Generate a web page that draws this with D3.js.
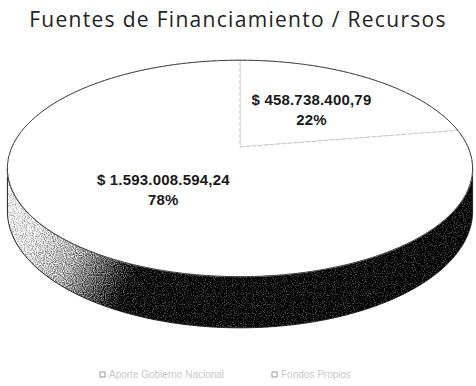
<!DOCTYPE html>
<html>
<head>
<meta charset="utf-8">
<script src="https://cdn.jsdelivr.net/npm/d3@7/dist/d3.min.js"></script>
<style>
  html, body { margin: 0; padding: 0; background: #fff; }
  svg { display: block; }
</style>
</head>
<body>
<svg id="chart" width="476" height="386"></svg>
<script>
// Funding sources (pesos) — slice order starts at 12 o'clock, clockwise
const categories = ["Fondos Propios", "Aporte Gobierno Nacional"];
const amounts = [458738400.79, 1593008594.24];
const amountLabels = ["$ 458.738.400,79", "$ 1.593.008.594,24"];
const percentLabels = ["22%", "78%"];
const legendOrder = [1, 0];
const title = "Fuentes de Financiamiento / Recursos";

const W = 476, H = 386;
const svg = d3.select("#chart");

// 3D disc geometry with a little perspective (far edge smaller)
const cx = 240, cy = 147;
const Rx = 228, Ry = 104;
const persp = 0.198;
const depth = 41;

function proj(theta, r = 1, dz = 0) {
  const s = Math.sin(theta), c = Math.cos(theta);
  const f = 1 / (1 + persp * c * r);
  return [cx + Rx * r * s * f, cy + (-Ry * r * c + dz) * f];
}

const defs = svg.append("defs");

// side-wall shading, light on the left turning to black
const grad = defs.append("linearGradient")
  .attr("id", "wallGrad")
  .attr("gradientUnits", "userSpaceOnUse")
  .attr("x1", 5).attr("y1", 185).attr("x2", 215).attr("y2", 300);
[[0, "#f6f6f6"], [0.2, "#e2e2e2"], [0.4, "#a8a8a8"], [0.55, "#505050"], [0.66, "#050505"], [1, "#000"]]
  .forEach(([o, c]) => grad.append("stop").attr("offset", o).attr("stop-color", c));

// grain filter for the shaded wall
const grain = defs.append("filter").attr("id", "grain")
  .attr("color-interpolation-filters", "sRGB")
  .attr("x", 0).attr("y", 0).attr("width", 1).attr("height", 1);
grain.append("feTurbulence").attr("type", "fractalNoise")
  .attr("baseFrequency", 0.9).attr("numOctaves", 1).attr("seed", 3).attr("result", "noise");
grain.append("feColorMatrix").attr("in", "noise").attr("type", "matrix")
  .attr("values", "1 0 0 0 0  1 0 0 0 0  1 0 0 0 0  0 0 0 0 1").attr("result", "gray");
const ct = grain.append("feComponentTransfer").attr("in", "gray").attr("result", "spread");
["feFuncR", "feFuncG", "feFuncB"].forEach(n =>
  ct.append(n).attr("type", "linear").attr("slope", 2.6).attr("intercept", -0.8));
grain.append("feComposite").attr("in", "SourceGraphic").attr("in2", "spread")
  .attr("operator", "arithmetic").attr("k1", 0).attr("k2", 1.0).attr("k3", 0.55).attr("k4", -0.27)
  .attr("result", "dots");
grain.append("feComposite").attr("in", "dots").attr("in2", "SourceGraphic").attr("operator", "in");

const pie = d3.pie().sort(null).value(d => d).startAngle(0).endAngle(2 * Math.PI);
const arcs = pie(amounts);

const N = 160;
function sample(a0, a1, r = 1, dz = 0) {
  return d3.range(N + 1).map(i => proj(a0 + (a1 - a0) * i / N, r, dz));
}

// visible wall spans between the two silhouette points
const aL = Math.PI - Math.acos(persp), aR = Math.PI + Math.acos(persp);
const wallTop = sample(aL, aR, 1, 0);
const wallBottom = sample(aL, aR, 1, depth).reverse();
const line = d3.line();
const wallPath = line(wallTop.concat(wallBottom)) + "Z";

svg.append("path")
  .attr("d", wallPath)
  .attr("fill", "url(#wallGrad)")
  .attr("filter", "url(#grain)");
svg.append("path")
  .attr("d", wallPath)
  .attr("fill", "none")
  .attr("stroke", "#222").attr("stroke-width", 1);

// top faces of the slices
const g = svg.append("g");
arcs.forEach((a, i) => {
  const pts = [[cx, cy]].concat(sample(a.startAngle, a.endAngle));
  g.append("path")
    .attr("d", line(pts) + "Z")
    .attr("fill", "#fff")
    .attr("stroke", "#c4c4c4")
    .attr("stroke-width", 1)
    .attr("stroke-dasharray", "4,2");
});

// outer rim of the top face
svg.append("path")
  .attr("d", line(sample(0, 2 * Math.PI)) + "Z")
  .attr("fill", "none").attr("stroke", "#444").attr("stroke-width", 1);

// data labels
const labFont = "'Liberation Sans', Arial, sans-serif";
arcs.forEach((a, i) => {
  const mid = (a.startAngle + a.endAngle) / 2;
  const [x, y] = proj(mid, 0.5);
  const t = svg.append("text")
    .attr("text-anchor", "middle")
    .attr("font-family", labFont)
    .attr("font-size", 15)
    .attr("font-weight", "bold")
    .attr("letter-spacing", 0.2)
    .attr("fill", "#1a1a1a");
  t.append("tspan").attr("x", x + 3).attr("y", y - 5).text(amountLabels[i]);
  t.append("tspan").attr("x", x + 3).attr("y", y + 15).text(percentLabels[i]);
});

// title
svg.append("text")
  .attr("x", 238).attr("y", 27)
  .attr("text-anchor", "middle")
  .attr("font-family", "'Open Sans', sans-serif")
  .attr("font-size", 21)
  .attr("letter-spacing", 1.3)
  .attr("fill", "#222")
  .text(title);

// legend
const legend = svg.append("g").attr("font-family", labFont).attr("font-size", 10).attr("fill", "#c8c8c8");
const legendX = [103, 275];
legendOrder.forEach((idx, k) => {
  legend.append("rect")
    .attr("x", legendX[k] - 3).attr("y", 372).attr("width", 5).attr("height", 5)
    .attr("fill", "#fff").attr("stroke", "#999").attr("stroke-width", 1);
  legend.append("text").attr("x", legendX[k] + 6).attr("y", 378).text(categories[idx]);
});
</script>
</body>
</html>
